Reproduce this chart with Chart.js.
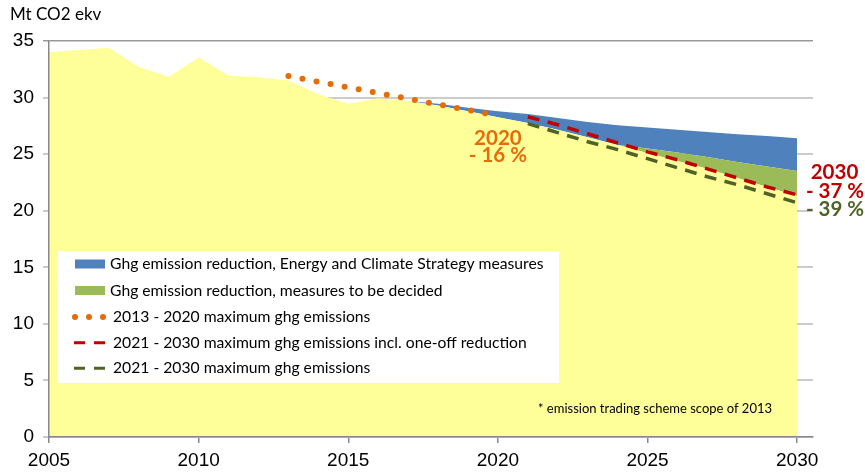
<!DOCTYPE html>
<html>
<head>
<meta charset="utf-8">
<script src="https://cdn.jsdelivr.net/npm/chart.js@4.4.1/dist/chart.umd.min.js"></script>
<style>
  body { margin: 0; background: #fff; }
  #wrap { width: 865px; height: 474px; }
</style>
</head>
<body>
<div id="wrap"><canvas id="emissionsChart" width="865" height="474"></canvas></div>
<script>
// years on the x axis
const years = [2005, 2006, 2007, 2008, 2009, 2010, 2011, 2012, 2013, 2014, 2015, 2016, 2017,
    2018, 2019, 2020, 2021, 2022, 2023, 2024, 2025, 2026, 2027, 2028, 2029, 2030]

// yellow area: emissions (history + path after measures)
const emissions = [34.0, 34.2, 34.4, 32.7, 31.85, 33.55, 31.95, 31.8, 31.5, 30.3, 29.45, 29.95, 29.7,
    29.3, 28.8, 28.25, 27.75, 27.15, 26.5, 25.8, 25.1, 24.4, 23.7, 22.9, 22.1, 21.3]
// green area: reduction, measures to be decided
const toBeDecided = [0, 0, 0, 0, 0, 0, 0, 0, 0, 0, 0, 0, 0,
    0, 0, 0, 0, 0, 0, 0, 0.4, 0.75, 1.05, 1.4, 1.8, 2.2]
// blue area: reduction, Energy and Climate Strategy measures
const ecsMeasures = [0, 0, 0, 0, 0, 0, 0, 0, 0, 0, 0, 0, 0,
    0.15, 0.3, 0.55, 0.8, 1.05, 1.35, 1.75, 1.85, 2.0, 2.2, 2.45, 2.7, 2.9]

// maximum emission paths
const max2020Years = [2013, 2014, 2015, 2016, 2017, 2018, 2019, 2020]
const max2020 = [31.9, 31.4, 30.9, 30.4, 29.9, 29.4, 28.9, 28.4]
const max2030Years = [2021, 2022, 2023, 2024, 2025, 2026, 2027, 2028, 2029, 2030]
const max2030OneOff = [28.3, 27.6, 26.8, 26.0, 25.2, 24.5, 23.7, 22.9, 22.1, 21.4]
const max2030 = [27.7, 26.9, 26.1, 25.4, 24.6, 23.8, 23.0, 22.3, 21.5, 20.7]

const xTicks = [2005, 2010, 2015, 2020, 2025, 2030]
const yTicks = [0, 5, 10, 15, 20, 25, 30, 35]

const legendLabels = [
    'Ghg emission reduction, Energy and Climate Strategy measures',
    'Ghg emission reduction, measures to be decided',
    '2013 - 2020 maximum ghg emissions',
    '2021 - 2030 maximum ghg emissions incl. one-off reduction',
    '2021 - 2030 maximum ghg emissions'
]

const YELLOW = '#FFFF99'
const BLUE = '#4F81BD'
const GREEN = '#9BBB59'
const ORANGE = '#E46C0A'
const RED = '#C00000'
const OLIVE = '#4F6228'
const TEXT_FONT = 'Lato, "Open Sans", sans-serif'
const AXIS_FONT = '"Liberation Sans", Arial, sans-serif'

const points = function (xs, ys) {
    return xs.map((x, i) => ({ x: x, y: ys[i] }))
}

const overlay = {
    id: 'overlay',
    afterDraw(chart) {
        const ctx = chart.ctx
        const xs = chart.scales.x
        const ys = chart.scales.y
        ctx.save()

        // unit title
        ctx.fillStyle = '#000'
        ctx.textBaseline = 'middle'
        ctx.textAlign = 'left'
        ctx.font = '17px ' + TEXT_FONT
        ctx.fillText('Mt CO2 ekv', 10, 15)

        // legend box
        ctx.fillStyle = '#fff'
        ctx.fillRect(58, 251, 501, 132)
        const rows = [264, 290.5, 317, 342.7, 368.3]
        ctx.font = '15.7px ' + TEXT_FONT
        ctx.fillStyle = BLUE
        ctx.fillRect(75, rows[0] - 4.5, 30, 9)
        ctx.fillStyle = GREEN
        ctx.fillRect(75, rows[1] - 4.5, 30, 9)
        ctx.fillStyle = ORANGE
        ;[75, 89, 103].forEach(cx => {
            ctx.beginPath()
            ctx.arc(cx, rows[2], 3, 0, Math.PI * 2)
            ctx.fill()
        })
        ;[[RED, rows[3]], [OLIVE, rows[4]]].forEach(([c, ry]) => {
            ctx.strokeStyle = c
            ctx.lineWidth = 3
            ctx.beginPath()
            ctx.moveTo(74, ry); ctx.lineTo(85, ry)
            ctx.moveTo(94, ry); ctx.lineTo(105, ry)
            ctx.stroke()
        })
        ctx.fillStyle = '#000'
        legendLabels.forEach((label, i) => {
            ctx.fillText(label, i < 2 ? 110 : 113, rows[i])
        })

        // footnote
        ctx.font = '13px ' + TEXT_FONT
        ctx.fillText('* emission trading scheme scope of 2013', 538, 409)

        // target annotations
        ctx.textAlign = 'center'
        ctx.font = 'bold 20.5px ' + TEXT_FONT
        ctx.fillStyle = ORANGE
        ctx.fillText('2020', xs.getPixelForValue(2020), ys.getPixelForValue(26.4))
        ctx.fillText('- 16 %', xs.getPixelForValue(2020), ys.getPixelForValue(24.85))
        ctx.fillStyle = RED
        ctx.fillText('2030', 834.5, ys.getPixelForValue(23.4))
        ctx.fillText('- 37 %', 835, ys.getPixelForValue(21.7))
        ctx.fillStyle = OLIVE
        ctx.fillText('- 39 %', 835, ys.getPixelForValue(20.15))
        ctx.restore()
    }
}

const data = {
    labels: years,
    datasets: [{
        label: legendLabels[2],
        data: points(max2020Years, max2020),
        stack: 'max2020',
        borderColor: ORANGE,
        borderWidth: 6,
        borderDash: [0, 14.3],
        borderCapStyle: 'round',
        fill: false
    }, {
        label: legendLabels[3],
        data: points(max2030Years, max2030OneOff),
        stack: 'max2030oneoff',
        borderColor: RED,
        borderWidth: 3.5,
        borderDash: [12, 8.5],
        fill: false
    }, {
        label: legendLabels[4],
        data: points(max2030Years, max2030),
        stack: 'max2030',
        borderColor: OLIVE,
        borderWidth: 3.5,
        borderDash: [12, 8.5],
        fill: false
    }, {
        label: 'Emissions',
        data: emissions,
        stack: 'area',
        backgroundColor: YELLOW,
        borderColor: 'rgba(0,0,0,0)',
        borderWidth: 0,
        fill: 'origin'
    }, {
        label: legendLabels[1],
        data: toBeDecided,
        stack: 'area',
        backgroundColor: GREEN,
        borderColor: 'rgba(0,0,0,0)',
        borderWidth: 0,
        fill: '-1'
    }, {
        label: legendLabels[0],
        data: ecsMeasures,
        stack: 'area',
        backgroundColor: BLUE,
        borderColor: 'rgba(0,0,0,0)',
        borderWidth: 0,
        fill: '-1'
    }]
}

const config = {
    type: 'line',
    data: data,
    options: {
        responsive: false,
        animation: false,
        layout: { padding: { top: 41, right: 52, left: 0, bottom: 0 } },
        elements: { point: { radius: 0 }, line: { tension: 0 } },
        plugins: { legend: { display: false }, tooltip: { enabled: false } },
        scales: {
            x: {
                type: 'linear',
                min: 2005,
                max: 2030.53,
                afterBuildTicks: scale => { scale.ticks = xTicks.map(v => ({ value: v })) },
                afterFit: scale => { scale.height = 37 },
                ticks: {
                    font: { family: AXIS_FONT, size: 19 },
                    color: '#000',
                    padding: 6,
                    maxRotation: 0,
                    autoSkip: false,
                    callback: v => String(v)
                },
                grid: { drawOnChartArea: false, tickLength: 6, color: '#888', lineWidth: 1.5 },
                border: { color: '#888', width: 1.5, z: 1 }
            },
            y: {
                stacked: true,
                min: 0,
                max: 35,
                afterBuildTicks: scale => { scale.ticks = yTicks.map(v => ({ value: v })) },
                afterFit: scale => { scale.width = 49 },
                ticks: {
                    font: { family: AXIS_FONT, size: 19 },
                    color: '#000',
                    padding: 9,
                    callback: v => String(v)
                },
                grid: {
                    tickLength: 6,
                    color: c => (c.tick && c.tick.value === 35) ? '#999' : '#ccc',
                    lineWidth: c => (c.tick && c.tick.value === 35) ? 1.5 : 2
                },
                border: { color: '#888', width: 1.5, z: 1 }
            }
        }
    },
    plugins: [overlay]
}

const emissionsChart = new Chart(document.getElementById('emissionsChart'), config)
</script>
</body>
</html>
